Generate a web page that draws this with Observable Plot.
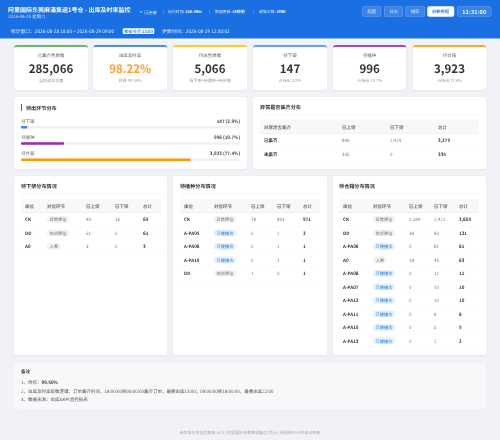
<!DOCTYPE html>
<html lang="zh-CN">
<head>
<meta charset="utf-8">
<script src="https://cdn.jsdelivr.net/npm/d3@7"></script>
<script src="https://cdn.jsdelivr.net/npm/@observablehq/plot@0.6"></script>
<style>
html,body{margin:0;padding:0;width:500px;height:440px;overflow:hidden;background:#f0f2f5;font-family:"Noto Sans CJK SC","Noto Sans",sans-serif;color:#333;text-rendering:geometricPrecision}
#root{position:absolute;left:0;top:0;width:2000px;height:1760px;transform:scale(.25);transform-origin:0 0;background:#f0f2f5;filter:blur(1.2px)}
.a{position:absolute;white-space:nowrap}
.btn{height:42px;line-height:38px;text-align:center;border-radius:8px;font-size:17.5px;color:#dfeaff;background:rgba(255,255,255,.14);border:2px solid rgba(255,255,255,.28);box-sizing:border-box}
.card{background:#fff;border-radius:12px;box-shadow:0 2px 8px rgba(0,0,0,.05)}
.kpi{top:180px;height:180px;text-align:center;overflow:hidden;border-top:8px solid;box-sizing:border-box}
.kpi .l{position:absolute;left:0;right:0;top:24px;font-size:18px;color:#666;line-height:20px}
.kpi .v{position:absolute;left:0;right:0;top:54px;font-size:46px;font-weight:700;line-height:60px;color:#333}
.kpi .s{position:absolute;left:0;right:0;top:123px;font-size:16.5px;color:#999;line-height:20px}
.ttl{font-size:20.5px;font-weight:700;color:#333;line-height:24px}
.hr{height:2px;background:#eef0f2}
table{border-collapse:collapse;table-layout:fixed;font-size:18px;position:absolute}
th{height:54px;padding:0 0 0 16px;text-align:left;font-weight:500;color:#555;background:#f7f8fa;border-bottom:2.4px solid #e4e7ea;box-sizing:border-box}
td{height:54px;padding:0 0 0 16px;color:#777;border-bottom:1.6px solid #f2f3f5;box-sizing:border-box}
td.k{font-weight:700;color:#333}
td.t{font-weight:700;color:#333}
.tag{display:inline-block;padding:0 10px;line-height:27px;border-radius:13px;background:#f1f2f3;color:#777;font-size:17px}
.tag.b{background:#e1f0fd;color:#2c7ad6}
#notes div{position:absolute;left:28px;font-size:18px;line-height:20px;color:#555;white-space:nowrap}
#foot{left:0;width:2000px;top:1717px;text-align:center;font-size:16px;line-height:20px;color:#aaa}
</style>
</head>
<body>
<div id="root"></div>
<script>
const kpiLabels = ["已集齐包裹数","出库及时率","待出包裹数","待下架","待播种","待合箱"];
const kpiValues = ["285,066","98.22%","5,066","147","996","3,923"];
const kpiNotes = ["当前波次总量","目标 99.50%","待下架+待播种+待合箱","占待出 2.9%","占待出 19.7%","占待出 77.4%"];
const kpiColors = ["#66bb6a","#4a8cf0","#ffca28","#64a0ff","#ab47bc","#ffa726"];
const stageNames = ["待下架","待播种","待合箱"];
const stageCounts = [147,996,3923];
const stageShares = ["2.9%","19.7%","77.4%"];
const stageColors = ["#3f87f5","#9c27b0","#ff9800"];
const stageTotal = 5066;
const columns = ["库位","对应环节","已上架","已下架","总计"];
const abnormalColumns = ["异常是否集齐","已上架","已下架","总计"];
const abnormalRows = [["已集齐",846,2429,3275],["未集齐",335,0,335]];
const pickRows = [["CK","异常库位",49,16,65],["DD","拣货库位",61,0,61],["A0","入库",3,0,3]];
const sowRows = [["CK","异常库位",78,893,971],["A-PA05","三楼播合",0,2,2],["A-PA06","三楼播合",0,1,1],["A-PA10","三楼播合",0,1,1],["DD","拣货库位",1,0,1]];
const packRows = [["CK","异常库位",1184,2421,3605],["DD","拣货库位",38,83,121],["A-PA06","三楼播合",0,81,81],["A0","入库",18,45,63],["A-PA08","三楼播合",0,11,11],["A-PA07","三楼播合",0,10,10],["A-PA12","三楼播合",0,10,10],["A-PA11","三楼播合",0,8,8],["A-PA10","三楼播合",0,5,5],["A-PA13","三楼播合",0,2,2]];

const root = document.getElementById("root");
const fmt = d3.format(",");
function el(cls, css, html, parent){const e=document.createElement("div");e.className=cls;e.style.cssText=css;if(html!=null)e.innerHTML=html;(parent||root).appendChild(e);return e;}

// header (laid out at 4x, the root is scaled to the 500px window)
el("a","left:0;top:0;width:2000px;height:154px;background:#1a6fe3;box-shadow:0 4px 8px rgba(255,255,255,.9)");
el("a","left:32px;top:20px;font-size:24px;font-weight:700;line-height:32px;color:#fff","阿里国际东莞麻涌集运1号仓 - 出库及时率监控");
el("a","left:32px;top:53px;font-size:18px;line-height:20px;color:#cfe0fb","2026-08-29 星期六");
el("a","left:561px;top:43px;width:8px;height:8px;border-radius:50%;background:#69f0ae");
el("a","left:576px;top:37px;font-size:17px;line-height:20px;color:#dce8ff","已连接");
[652,836,1012].forEach(x=>el("a",`left:${x}px;top:38px;width:2px;height:18px;background:rgba(255,255,255,.35)`));
el("a","left:672px;top:37px;font-size:15.5px;line-height:20px;color:#dce8ff",'运行时间: <b style="color:#fff">21h 49m</b>');
el("a","left:860px;top:37px;font-size:15.5px;line-height:20px;color:#dce8ff",'数据更新: <b style="color:#fff">56秒前</b>');
el("a","left:1036px;top:37px;font-size:15.5px;line-height:20px;color:#dce8ff",'采集次数: <b style="color:#fff">2690</b>');
[[1449,76,"配置"],[1536,76,"日志"],[1621,79,"捕获"]].forEach(([x,w,t])=>el("a btn",`left:${x}px;top:25px;width:${w}px`,t));
el("a btn",`left:1709px;top:25px;width:108px;background:#fff;color:#1a6fe3;font-weight:500;font-size:17px;border-color:#fff`,"刷新数据");
el("a btn",`left:1828px;top:25px;width:138px;font-size:21px;font-weight:700;color:#fff;letter-spacing:1px`,"12:31:00");
el("a","left:44px;top:114px;font-size:19px;line-height:20px;color:#e6efff","统计窗口：2026-08-28 18:00 ~ 2026-08-29 09:00");
el("a","left:491px;top:113px;width:126px;height:23px;line-height:23px;text-align:center;border-radius:4px;background:#fff;color:#1a6fe3;font-size:17px;font-weight:500","考核节点 13:00");
el("a","left:648px;top:114px;font-size:19px;line-height:20px;color:#e6efff","更新时间：2026-08-29 12:30:02");

// KPI cards
const kpiX = [56,373,692,1012,1332,1652], kpiW = [296,295,296,296,293,292];
kpiLabels.forEach((l,i)=>{
  const c = el("a card kpi",`left:${kpiX[i]}px;width:${kpiW[i]}px;border-top-color:${kpiColors[i]}`);
  el("l","",l,c);
  el("v",i==1?"color:#ff9f2a":"",kpiValues[i],c);
  el("s","",kpiNotes[i],c);
});

function panel(x,y,w,h,title,titleX,ruleW,ruleY){
  el("a card",`left:${x}px;top:${y}px;width:${w}px;height:${h}px`);
  el("a ttl",`left:${titleX}px;top:${y+28}px`,title);
  if(ruleW) el("a hr",`left:${titleX}px;top:${ruleY}px;width:${ruleW}px`);
}
function table(x,y,w,cols,heads,rows,hasTag){
  const t=document.createElement("table");
  t.style.cssText=`left:${x}px;top:${y}px;width:${w}px`;
  let h=`<colgroup>${cols.map(c=>`<col style="width:${c}px">`).join("")}</colgroup><tr>${heads.map(s=>`<th>${s}</th>`).join("")}</tr>`;
  rows.forEach(r=>{
    h+="<tr>"+r.map((v,j)=>{
      if(j==0) return `<td class="k">${v}</td>`;
      if(hasTag&&j==1) return `<td><span class="tag${v=="三楼播合"?" b":""}">${v}</span></td>`;
      return `<td${j==r.length-1?' class="t"':""}>${fmt(v)}</td>`;
    }).join("")+"</tr>";
  });
  t.innerHTML=h;root.appendChild(t);
}

// distribution panel
el("a card","left:56px;top:388px;width:932px;height:288px");
el("a","left:84px;top:416px;width:4px;height:28px;background:#1a6fe3");
el("a ttl","left:104px;top:418px","待出环节分布");
const stages = stageNames.map((name,i)=>({name,count:stageCounts[i],share:stageShares[i],color:stageColors[i]}));
const font = '"Noto Sans CJK SC","Noto Sans",sans-serif';
const chart = Plot.plot({
  width:876, height:178, marginTop:36, marginBottom:0, marginLeft:0, marginRight:0,
  style:{fontFamily:font, background:"transparent", overflow:"visible"},
  x:{domain:[0,stageTotal], axis:null},
  y:{domain:stageNames, axis:null, paddingInner:.84, paddingOuter:0, align:1},
  marks:[
    Plot.barX(stages,{y:"name",x1:0,x2:stageTotal,fill:"#f0f1f3"}),
    Plot.barX(stages,{y:"name",x1:0,x2:"count",fill:"color",rx:4}),
    Plot.text(stages,{y:"name",text:"name",frameAnchor:"left",dy:-25,fontSize:18,fill:"#666"}),
    Plot.text(stages,{y:"name",text:d=>`${fmt(d.count)} (${d.share})`,frameAnchor:"right",dy:-25,fontSize:18,fontWeight:700,fill:"#444"})
  ]
});
chart.style.position="absolute";chart.style.left="84px";chart.style.top="466px";
root.appendChild(chart);

// abnormal
panel(1012,388,932,288,"异常是否集齐分布",1040,876,456);
table(1040,480,876,[312,192,192,180],abnormalColumns,abnormalRows,false);

// three tables
const panels=[
 [56,612,"待下架分布情况",84,559,[88,156,116,112,87],pickRows],
 [692,616,"待播种分布情况",720,560,[120,148,104,104,84],sowRows],
 [1332,612,"待合箱分布情况",1356,560,[120,144,100,100,96],packRows]
];
panels.forEach(([x,w,ttl,tx,tw,cols,rows])=>{
  panel(x,704,w,716,ttl,tx,tw,772);
  table(tx,796,tw,cols,columns,rows,true);
});

// notes
const n=el("a","left:56px;top:1452px;width:1888px;height:184px;background:#f7f8fa;border-radius:12px");
n.id="notes";
el("",`top:22px;font-weight:700;color:#333`,"备注",n);
el("",`top:66px`,'1、目标：<b style="color:#333">99.50%</b>',n);
el("",`top:101px`,"2、出库及时率取数逻辑：订单集齐时间，18:00:00到09:00:00集齐订单，最晚出库13:00；09:00:00到18:00:00，最晚出库22:00",n);
el("",`top:134px`,"3、数据来源：出库&KPI监控报表",n);
const f=el("a","","出库及时率监控面板 v1.0 | 阿里国际东莞麻涌集运1号仓 | 数据每30分钟自动刷新");f.id="foot";
</script>
</body>
</html>
